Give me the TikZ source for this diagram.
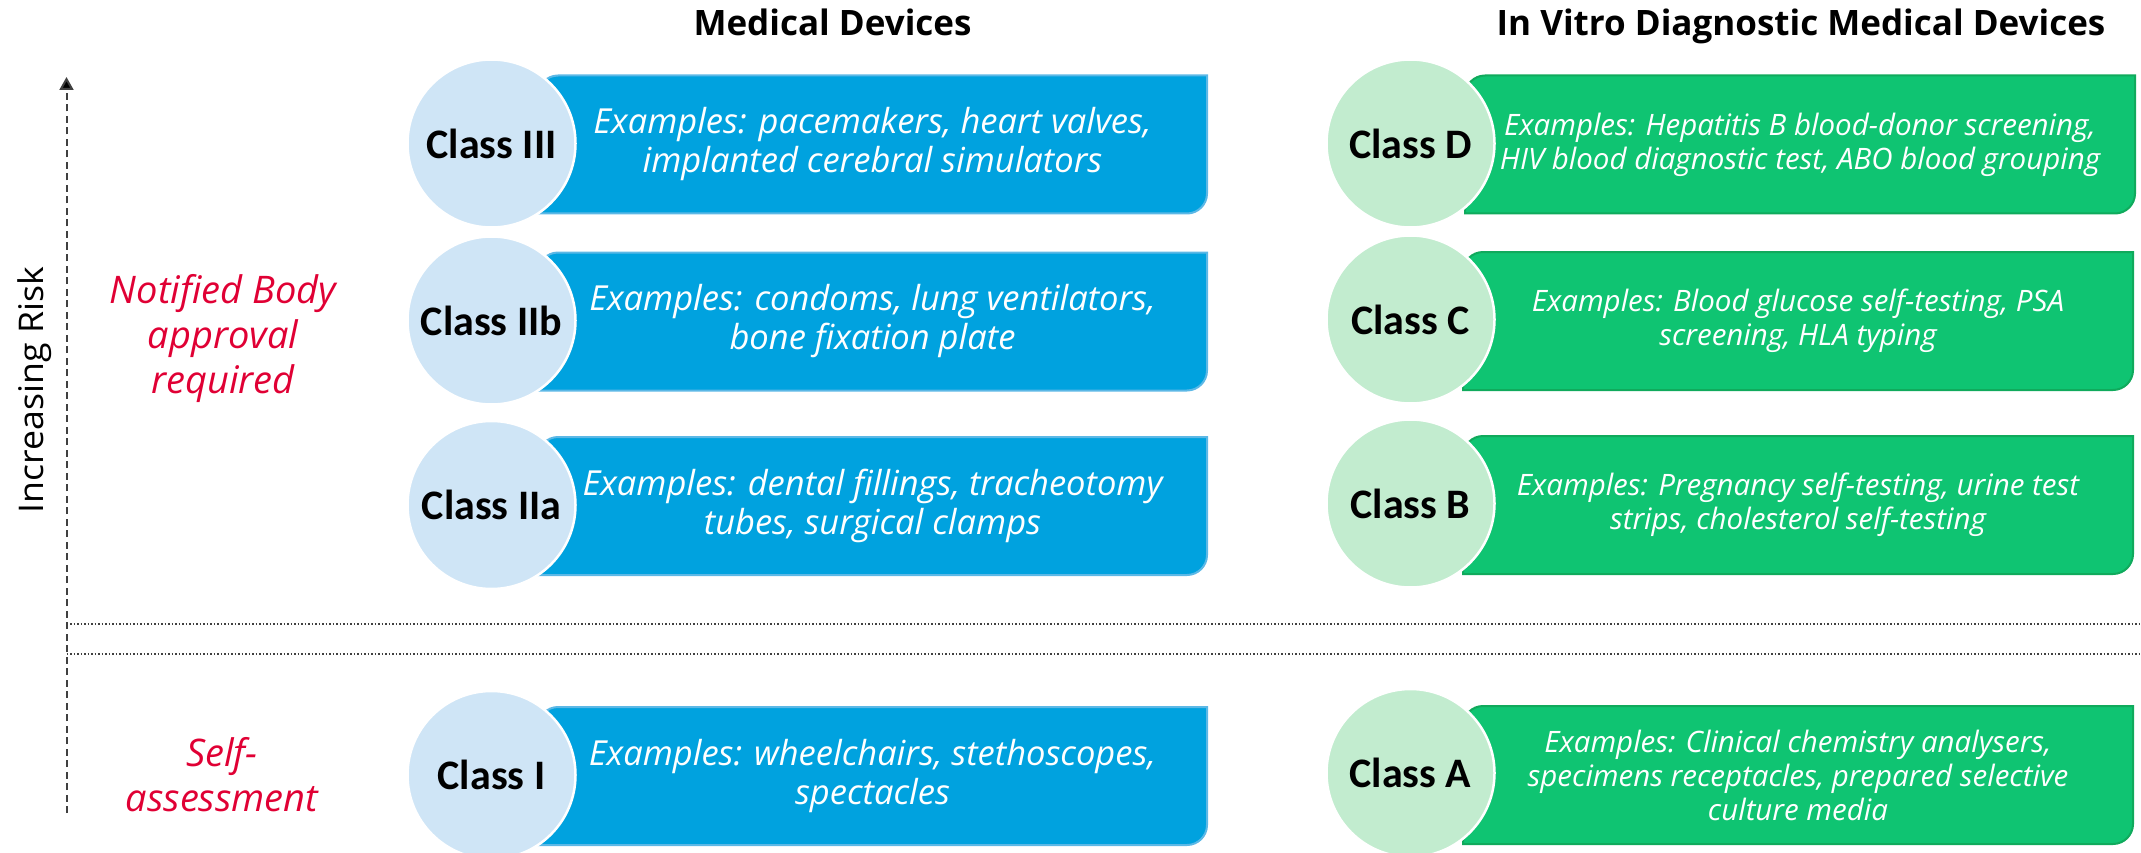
\documentclass[tikz,border=0pt]{standalone}
\usepackage{fontspec}
\setmainfont{Open Sans}
\newfontfamily\labelfont{Carlito}
\usetikzlibrary{arrows.meta,calc,backgrounds}

\definecolor{mdblue}{RGB}{0,162,223}
\definecolor{mdblueedge}{RGB}{92,184,230}
\definecolor{mdcircle}{RGB}{207,229,246}
\definecolor{ivdgreen}{RGB}{15,196,114}
\definecolor{ivdedge}{RGB}{16,170,92}
\definecolor{ivdcircle}{RGB}{194,236,207}
\definecolor{riskred}{RGB}{224,0,52}
\definecolor{axisgray}{RGB}{64,64,64}

% box with rounded top-left and bottom-right corners, drawn behind a node
\newcommand\diagshape[3]{%
  \path[fill=#2,draw=#3,line width=2pt]
    (#1.south west) -- ($(#1.north west)+(0,20)$)
    .. controls ($(#1.north west)+(0,9)$) and ($(#1.north west)+(9,0)$) .. ($(#1.north west)+(20,0)$)
    -- (#1.north east) -- ($(#1.south east)+(0,-20)$)
    .. controls ($(#1.south east)+(0,-9)$) and ($(#1.south east)+(-9,0)$) .. ($(#1.south east)+(-20,0)$)
    -- cycle;}

\begin{document}
\begin{tikzpicture}[x=1pt,y=-1pt,
  header/.style={anchor=base,inner sep=0,font=\bfseries\fontsize{35}{38}\selectfont},
  exbox/.style={inner sep=0,outer sep=0,minimum height=138pt,align=center,text=white},
  mdbox/.style={exbox,minimum width=669pt,font=\itshape\fontsize{34.5}{39}\selectfont},
  ivdbox/.style={exbox,minimum width=670pt,font=\itshape\fontsize{29.5}{34}\selectfont},
  classcirc/.style={circle,minimum size=168pt,inner sep=0,draw=white,line width=2.5pt,
    font=\labelfont\bfseries\fontsize{42}{42}\selectfont},
  mdcirc/.style={classcirc,fill=mdcircle},
  ivdcirc/.style={classcirc,fill=ivdcircle},
  risktext/.style={align=center,inner sep=0,text=riskred,font=\itshape\fontsize{38}{45}\selectfont},
  axisline/.style={draw=axisgray,line width=2pt,dash pattern=on 7pt off 4.5pt},
  divider/.style={draw=axisgray,line width=1.5pt,dash pattern=on 1.5pt off 2pt}
]
\useasboundingbox (0,0) rectangle (2141,853);

% column headings
\node[header] (hmd) at (832.5,36) {Medical Devices};
\node[header] (hivd) at (1801,36) {In Vitro Diagnostic Medical Devices};

% risk axis
\coordinate (axtop) at (66.5,77);
\coordinate (axbot) at (66.5,813);
\draw[axisline,-{Triangle[width=14pt,length=13pt,fill=black]}] (axbot) -- (axtop);
\node[rotate=90,anchor=base,inner sep=0,
  font=\fontsize{34}{34}\selectfont\addfontfeatures{FakeStretch=1.05}] (risk) at (43,390) {Increasing Risk};

% separation between notified-body classes and self-assessment
\coordinate (d1l) at (66.5,624);
\coordinate (d1r) at (2141,624);
\coordinate (d2l) at (66.5,654);
\coordinate (d2r) at (2141,654);
\draw[divider] (d1l) -- (d1r);
\draw[divider] (d2l) -- (d2r);

\node[risktext] (nb) at (223,339) {Notified Body\\approval\\required};
\node[risktext] (sa) at (222,775) {Self-\\assessment};

% medical device classes
\node[mdbox] (bIII) at (872.5,144.5) {Examples: pacemakers, heart valves,\\implanted cerebral simulators};
\node[mdbox] (bIIb) at (872.5,321.5) {Examples: condoms, lung ventilators,\\bone fixation plate};
\node[mdbox] (bIIa) at (872.5,506) {Examples: dental fillings, tracheotomy\\tubes, surgical clamps};
\node[mdbox] (bI) at (872.5,776) {Examples: wheelchairs, stethoscopes,\\spectacles};

% IVD classes
\node[ivdbox] (bD) at (1800,144.5) {Examples: Hepatitis B blood-donor screening,\\HIV blood diagnostic test, ABO blood grouping};
\node[ivdbox] (bC) at (1798,321) {Examples: Blood glucose self-testing, PSA\\screening, HLA typing};
\node[ivdbox] (bB) at (1798,505) {Examples: Pregnancy self-testing, urine test\\strips, cholesterol self-testing};
\node[ivdbox] (bA) at (1798,775) {Examples: Clinical chemistry analysers,\\specimens receptacles, prepared selective\\culture media};

\begin{pgfonlayer}{background}
  \diagshape{bIII}{mdblue}{mdblueedge}
  \diagshape{bIIb}{mdblue}{mdblueedge}
  \diagshape{bIIa}{mdblue}{mdblueedge}
  \diagshape{bI}{mdblue}{mdblueedge}
  \diagshape{bD}{ivdgreen}{ivdedge}
  \diagshape{bC}{ivdgreen}{ivdedge}
  \diagshape{bB}{ivdgreen}{ivdedge}
  \diagshape{bA}{ivdgreen}{ivdedge}
\end{pgfonlayer}

\node[mdcirc] (cIII) at (491.5,143.5) {Class III};
\node[mdcirc] (cIIb) at (491.5,320.5) {Class IIb};
\node[mdcirc] (cIIa) at (491.5,505) {Class IIa};
\node[mdcirc] (cI) at (491.5,775) {Class I};

\node[ivdcirc] (cD) at (1410.5,143.5) {Class D};
\node[ivdcirc] (cC) at (1410.5,319.5) {Class C};
\node[ivdcirc] (cB) at (1410.5,503.5) {Class B};
\node[ivdcirc] (cA) at (1410.5,773) {Class A};
\end{tikzpicture}
\end{document}
